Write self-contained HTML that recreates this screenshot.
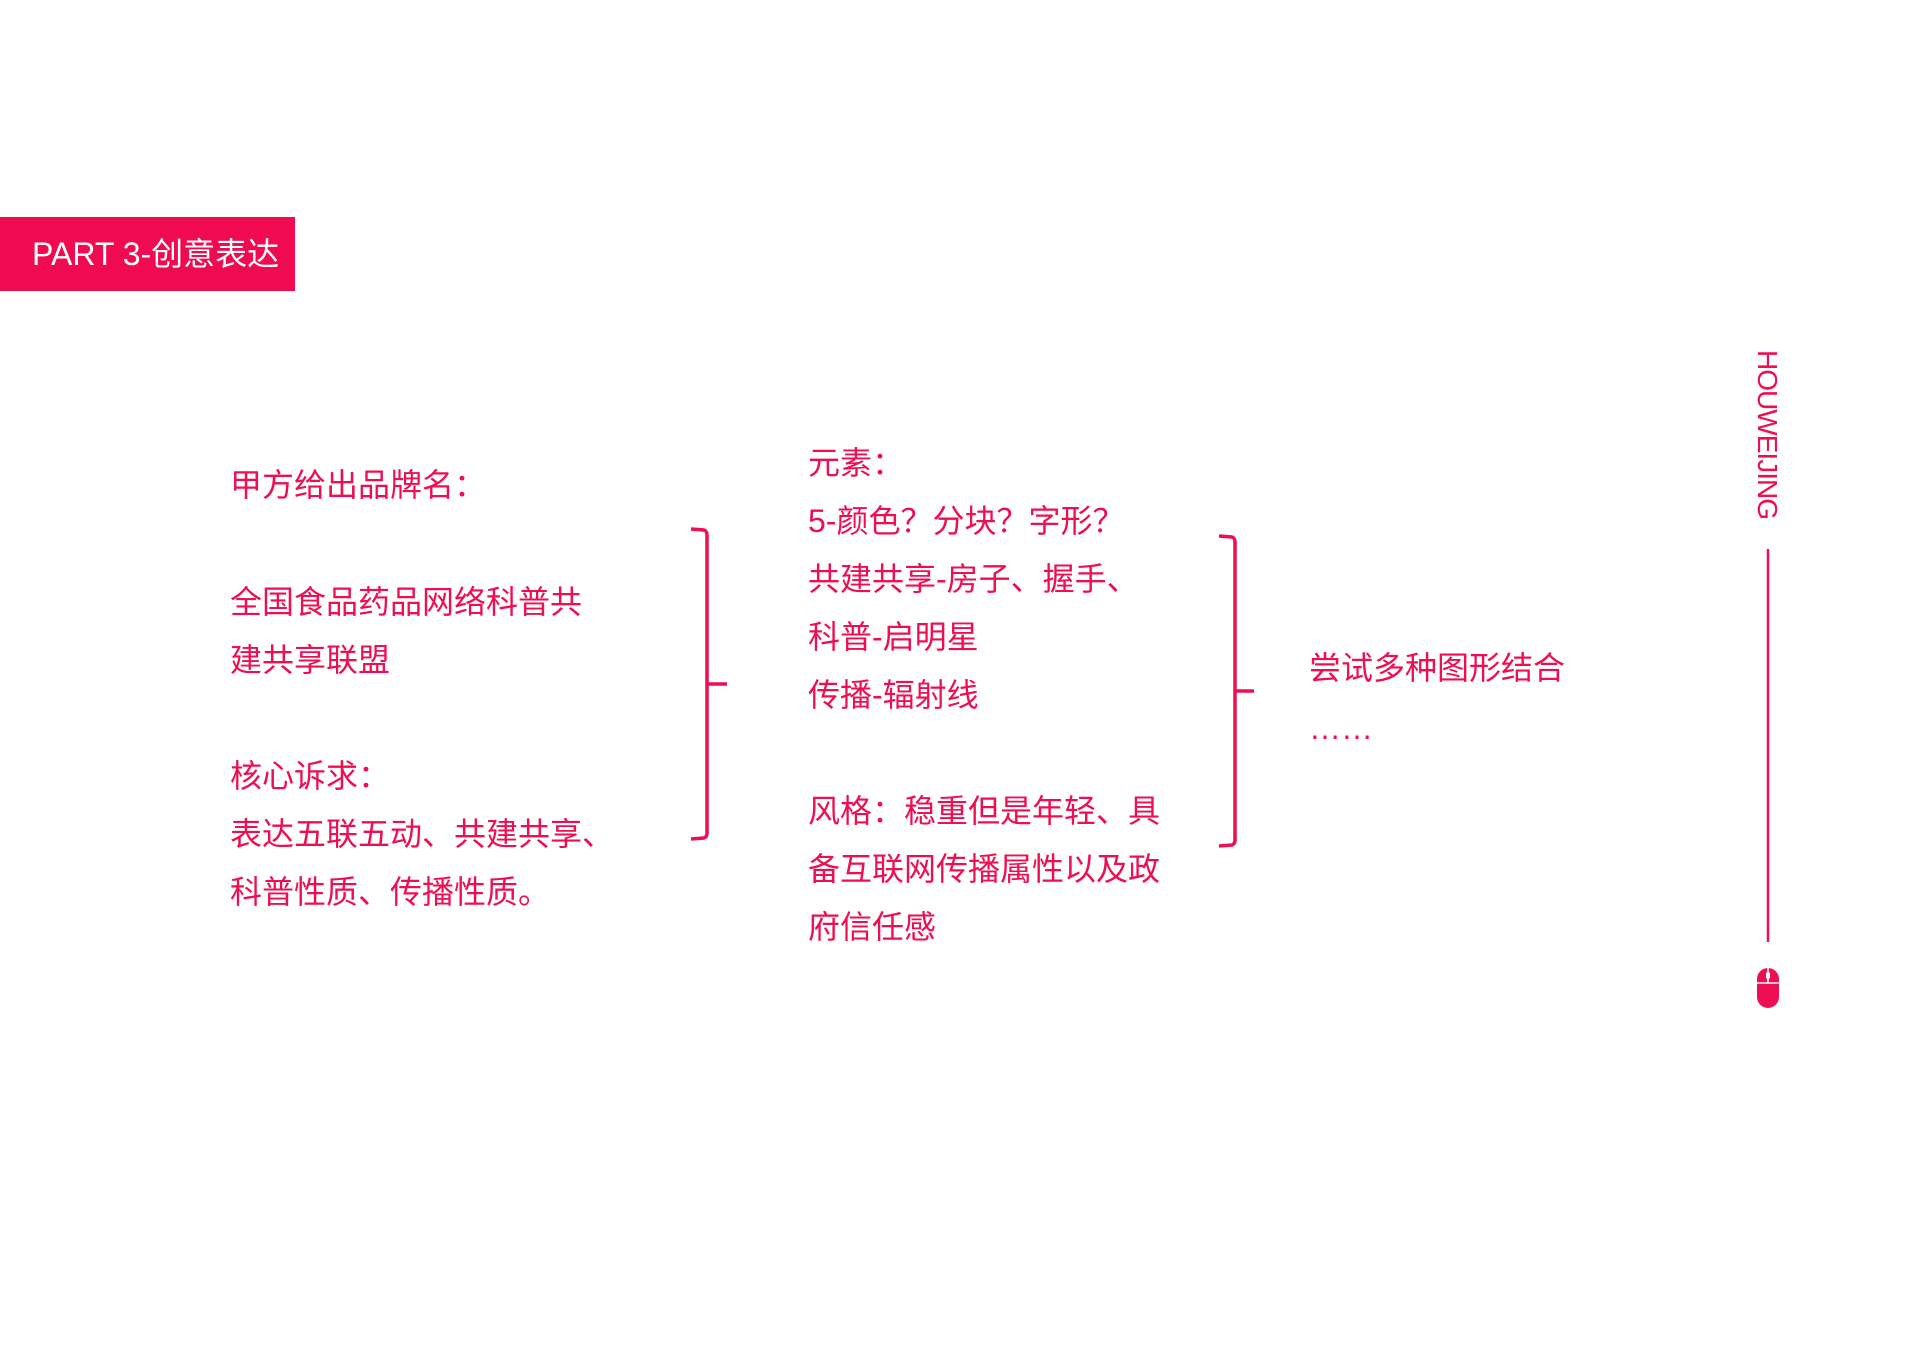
<!DOCTYPE html>
<html><head><meta charset="utf-8"><style>
html,body{margin:0;padding:0;background:#fff;}
body{width:1918px;height:1356px;position:relative;overflow:hidden;font-family:"Liberation Sans","Noto Sans CJK SC",sans-serif;color:#ee0f52;}
.t{position:absolute;font-size:32px;line-height:40px;white-space:nowrap;}
.box{position:absolute;left:0;top:217px;width:295px;height:74px;background:#f00a50;color:#fff;font-size:32px;line-height:74px;}
</style></head><body>
<div class="box"><span style="margin-left:32px">PART 3-创意表达</span></div>

<div class="t" style="left:230px;top:465px">甲方给出品牌名：</div>
<div class="t" style="left:230px;top:582px">全国食品药品网络科普共</div>
<div class="t" style="left:230px;top:640px">建共享联盟</div>
<div class="t" style="left:230px;top:756px">核心诉求：</div>
<div class="t" style="left:230px;top:814px">表达五联五动、共建共享、</div>
<div class="t" style="left:230px;top:872px">科普性质、传播性质。</div>

<div class="t" style="left:808px;top:443px">元素：</div>
<div class="t" style="left:808px;top:501px">5-颜色？分块？字形？</div>
<div class="t" style="left:808px;top:559px">共建共享-房子、握手、</div>
<div class="t" style="left:808px;top:617px">科普-启明星</div>
<div class="t" style="left:808px;top:675px">传播-辐射线</div>
<div class="t" style="left:808px;top:791px">风格：稳重但是年轻、具</div>
<div class="t" style="left:808px;top:849px">备互联网传播属性以及政</div>
<div class="t" style="left:808px;top:907px">府信任感</div>

<div class="t" style="left:1309px;top:648px">尝试多种图形结合</div>
<div class="t" style="left:1309px;top:708px">……</div>

<svg width="1918" height="1356" style="position:absolute;left:0;top:0">
<g fill="none" stroke="#ee0f52" stroke-width="3.5">
<path d="M691 529 L704 530 Q707 531 707 535 L707 833 Q707 837 704 838 L691 839"/>
<path d="M707 684 L727 684"/>
<path d="M1219 536 L1232 537 Q1235 538 1235 542 L1235 840 Q1235 844 1232 845 L1219 846"/>
<path d="M1235 691 L1254 691"/>
<path d="M1768 549 L1768 942" stroke-width="2.5"/>
</g>
<g transform="translate(-15 0)">
<rect x="1772" y="968" width="22" height="40" rx="11" fill="#ee0f52"/>
<line x1="1772" y1="983" x2="1794" y2="983" stroke="#fff" stroke-width="1.5"/>
<line x1="1783" y1="968" x2="1783" y2="983" stroke="#fff" stroke-width="1.5"/>
<rect x="1781" y="972" width="4" height="7" rx="2" fill="#fff"/>
<text x="0" y="0" transform="translate(1773 350) rotate(90)" font-family="Liberation Sans, sans-serif" font-size="28" fill="#ee0f52" textLength="170">HOUWEIJING</text>
</g>
</svg>
</body></html>
